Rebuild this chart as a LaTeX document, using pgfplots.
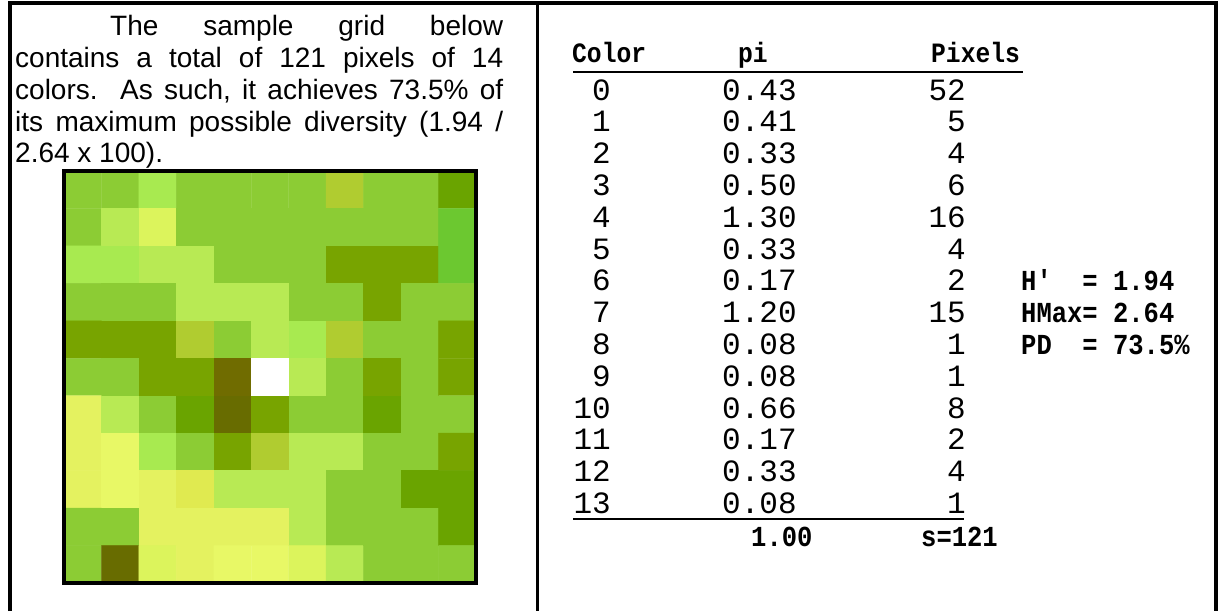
\documentclass[border=0pt]{standalone}
\usepackage{pgfplots}
\pgfplotsset{compat=1.18}
\usepackage{fontspec}
\setmainfont{Liberation Sans}
\newfontfamily\cour{Liberation Mono}
\newfontfamily\courb[FakeStretch=0.88]{Liberation Mono}

% grid colours
\definecolor{cA}{RGB}{140,204,52}
\definecolor{cL}{RGB}{168,234,80}
\definecolor{cM}{RGB}{184,234,84}
\definecolor{cY}{RGB}{220,244,92}
\definecolor{cP}{RGB}{228,242,96}
\definecolor{cR}{RGB}{232,248,102}
\definecolor{cS}{RGB}{224,234,80}
\definecolor{cD}{RGB}{120,164,0}
\definecolor{cE}{RGB}{106,164,0}
\definecolor{cO}{RGB}{176,204,48}
\definecolor{cG}{RGB}{108,200,48}
\definecolor{cB}{RGB}{112,108,0}
\definecolor{cQ}{RGB}{104,108,0}
\definecolor{cW}{RGB}{255,255,255}

\begin{document}
\frenchspacing
\begin{tikzpicture}
\useasboundingbox (0pt,0pt) rectangle (1221pt,-611pt);

% frame
\draw[line width=4pt] (10pt,-611pt) -- (10pt,-3pt) -- (1216pt,-3pt) -- (1216pt,-611pt);
\draw[line width=3.5pt] (537.7pt,-3pt) -- (537.7pt,-611pt);

% left paragraph
\begin{scope}[every node/.style={inner sep=0pt, anchor=base west, font=\fontsize{28}{32}\selectfont}]
\node at (110pt,-35pt) {\makebox[393pt][s]{The sample grid below}};
\node at (15pt,-67pt) {\makebox[488pt][s]{contains a total of 121 pixels of 14}};
\node at (15pt,-99pt) {\makebox[488pt][s]{colors.\ \ As such, it achieves 73.5\% of}};
\node at (15pt,-131pt) {\makebox[488pt][s]{its maximum possible diversity (1.94 /}};
\node at (15pt,-162pt) {2.64 x 100).};
\end{scope}

% sample grid
\begin{axis}[
    at={(64pt,-583pt)}, anchor=south west,
    scale only axis, width=412pt, height=412pt,
    xmin=-0.5, xmax=10.5, ymin=-0.5, ymax=10.5,
    y dir=reverse, enlargelimits=false,
    axis lines=box, xtick=\empty, ytick=\empty,
    axis line style={line width=4.5pt, black},
    axis on top,
]
\addplot[matrix plot*, mesh/cols=11, mesh/color input=explicit,
    point meta=explicit symbolic] table[meta=c] {
x y c
0 0 color=cA
1 0 color=cA
2 0 color=cL
3 0 color=cA
4 0 color=cA
5 0 color=cA
6 0 color=cA
7 0 color=cO
8 0 color=cA
9 0 color=cA
10 0 color=cE
0 1 color=cA
1 1 color=cM
2 1 color=cY
3 1 color=cA
4 1 color=cA
5 1 color=cA
6 1 color=cA
7 1 color=cA
8 1 color=cA
9 1 color=cA
10 1 color=cG
0 2 color=cL
1 2 color=cL
2 2 color=cM
3 2 color=cM
4 2 color=cA
5 2 color=cA
6 2 color=cA
7 2 color=cD
8 2 color=cD
9 2 color=cD
10 2 color=cG
0 3 color=cA
1 3 color=cA
2 3 color=cA
3 3 color=cM
4 3 color=cM
5 3 color=cM
6 3 color=cA
7 3 color=cA
8 3 color=cD
9 3 color=cA
10 3 color=cA
0 4 color=cD
1 4 color=cD
2 4 color=cD
3 4 color=cO
4 4 color=cA
5 4 color=cM
6 4 color=cL
7 4 color=cO
8 4 color=cA
9 4 color=cA
10 4 color=cD
0 5 color=cA
1 5 color=cA
2 5 color=cD
3 5 color=cD
4 5 color=cB
5 5 color=cW
6 5 color=cM
7 5 color=cA
8 5 color=cD
9 5 color=cA
10 5 color=cD
0 6 color=cP
1 6 color=cM
2 6 color=cA
3 6 color=cE
4 6 color=cQ
5 6 color=cD
6 6 color=cA
7 6 color=cA
8 6 color=cE
9 6 color=cA
10 6 color=cA
0 7 color=cP
1 7 color=cR
2 7 color=cL
3 7 color=cA
4 7 color=cD
5 7 color=cO
6 7 color=cM
7 7 color=cM
8 7 color=cA
9 7 color=cA
10 7 color=cD
0 8 color=cP
1 8 color=cR
2 8 color=cP
3 8 color=cS
4 8 color=cM
5 8 color=cM
6 8 color=cM
7 8 color=cA
8 8 color=cA
9 8 color=cE
10 8 color=cE
0 9 color=cA
1 9 color=cA
2 9 color=cP
3 9 color=cP
4 9 color=cP
5 9 color=cP
6 9 color=cM
7 9 color=cA
8 9 color=cA
9 9 color=cA
10 9 color=cE
0 10 color=cA
1 10 color=cQ
2 10 color=cY
3 10 color=cP
4 10 color=cR
5 10 color=cR
6 10 color=cY
7 10 color=cM
8 10 color=cA
9 10 color=cA
10 10 color=cA
};
\end{axis}

% table header
\begin{scope}[every node/.style={inner sep=0pt, anchor=base west, font=\courb\bfseries\fontsize{28}{30}\selectfont}]
\node at (572pt,-62pt) {Color};
\node at (738pt,-62pt) {pi};
\node at (931pt,-62pt) {Pixels};
\end{scope}
\draw[line width=1.5pt] (573pt,-72pt) -- (1023pt,-72pt);

% table body
\begin{scope}[every node/.style={inner sep=0pt, font=\cour\fontsize{31}{32}\selectfont}]
\foreach \c/\p/\n [count=\k from 0] in {0/0.43/52, 1/0.41/5, 2/0.33/4, 3/0.50/6, 4/1.30/16, 5/0.33/4, 6/0.17/2, 7/1.20/15, 8/0.08/1, 9/0.08/1, 10/0.66/8, 11/0.17/2, 12/0.33/4, 13/0.08/1}{
  \node[anchor=base east] at (611pt,{-100pt-31.8pt*\k}) {\c};
  \node[anchor=base west] at (722pt,{-100pt-31.8pt*\k}) {\p};
  \node[anchor=base east] at (966pt,{-100pt-31.8pt*\k}) {\n};
}
\end{scope}
\draw[line width=1.5pt] (573pt,-519pt) -- (964pt,-519pt);

% totals and summary
\begin{scope}[every node/.style={inner sep=0pt, anchor=base west, font=\courb\bfseries\fontsize{29}{30}\selectfont}]
\node at (751pt,-546pt) {1.00};
\node at (921pt,-546pt) {s=121};
\node at (1021pt,-290.8pt) {H'\ \ = 1.94};
\node at (1021pt,-322.6pt) {HMax= 2.64};
\node at (1021pt,-354.4pt) {PD\ \ = 73.5\%};
\end{scope}
\end{tikzpicture}
\end{document}
